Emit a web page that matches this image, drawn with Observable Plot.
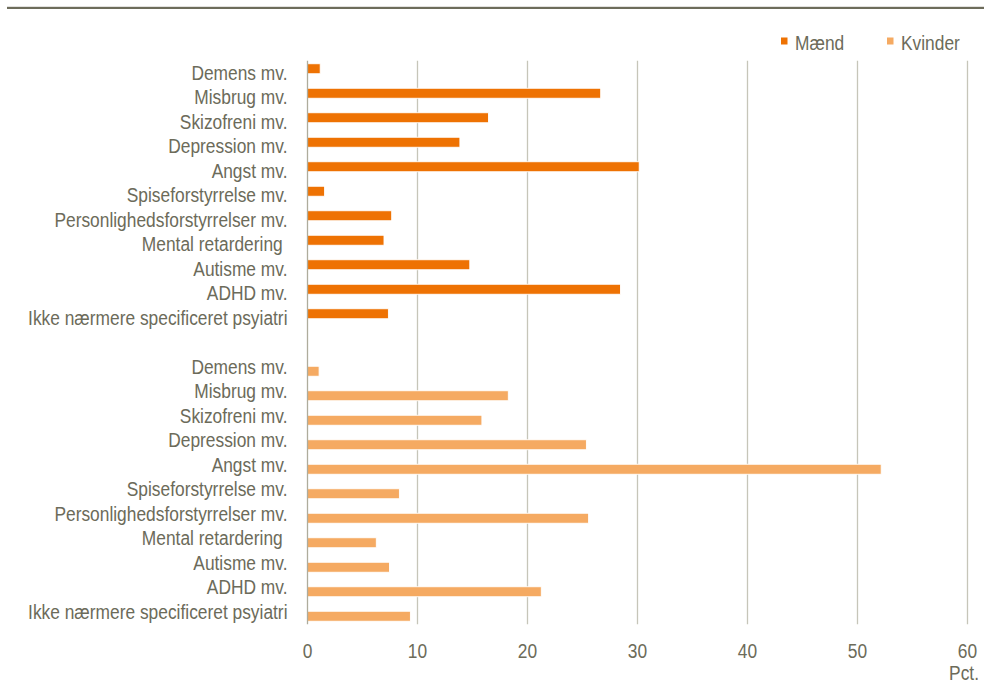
<!DOCTYPE html>
<html>
<head>
<meta charset="utf-8">
<script src="https://cdn.jsdelivr.net/npm/d3@7"></script>
<script src="https://cdn.jsdelivr.net/npm/@observablehq/plot@0.6"></script>
<style>
  html, body { margin: 0; padding: 0; background: #ffffff; }
  #wrap { position: relative; width: 984px; height: 684px; overflow: hidden; }
  #wrap > svg { position: absolute; left: 0; top: 0; }
</style>
</head>
<body>
<div id="wrap"></div>
<script>
// ---- data ----
const categories = [
  "Demens mv.", "Misbrug mv.", "Skizofreni mv.", "Depression mv.", "Angst mv.",
  "Spiseforstyrrelse mv.", "Personlighedsforstyrrelser mv.", "Mental retardering ",
  "Autisme mv.", "ADHD mv.", "Ikke nærmere specificeret psyiatri"
];
const maend   = [1.2, 26.7, 16.5, 13.9, 30.2, 1.6, 7.7, 7.0, 14.8, 28.5, 7.4];
const kvinder = [1.1, 18.3, 15.9, 25.4, 52.2, 8.4, 25.6, 6.3, 7.5, 21.3, 9.4];
const seriesNames = ["Mænd", "Kvinder"];
const seriesColors = ["#EE7203", "#F5AA62"];
const xTicks = [0, 10, 20, 30, 40, 50, 60];
const unitLabel = "Pct.";

// ---- typography (narrow look: Liberation Sans compressed horizontally) ----
const fontFamily = "'Liberation Sans', Arial, sans-serif";
const fontSize = 19.5;
const hScale = 0.89;
const textColor = "#6c6b5a";

// ---- build table ----
const keys = [
  ...categories.map(c => "M|" + c),
  "gap",
  ...categories.map(c => "K|" + c)
];
const menData = categories.map((c, i) => ({key: "M|" + c, v: maend[i]}));
const womenData = categories.map((c, i) => ({key: "K|" + c, v: kvinder[i]}));
const fmt = d => d === "gap" ? "" : d.split("|")[1];

const W = 984, H = 684;
const chart = Plot.plot({
  width: W, height: H,
  marginTop: 60.75, marginBottom: 59.75, marginLeft: 307, marginRight: 17,
  style: {fontFamily, fontSize: fontSize + "px", color: textColor, background: "transparent", overflow: "visible"},
  x: {domain: [0, 60]},
  y: {domain: keys, padding: 0, round: false},
  marks: [
    Plot.gridX(xTicks.slice(1), {stroke: "#c6c5b9", strokeOpacity: 1, strokeWidth: 1.3}),
    Plot.barX(menData, {x: "v", y: "key", fill: seriesColors[0], insetTop: 3, insetBottom: 11.5, stroke: "#ffffff", strokeWidth: 0.9}),
    Plot.barX(womenData, {x: "v", y: "key", fill: seriesColors[1], insetTop: 11.5, insetBottom: 3, stroke: "#ffffff", strokeWidth: 0.9}),
    Plot.ruleX([0], {stroke: "#aeac9c", strokeWidth: 1.3}),
    Plot.axisX({ticks: xTicks, tickSize: 0, tickPadding: 19, label: null, tickFormat: d => String(d)}),
    Plot.axisY({tickSize: 0, tickPadding: 20, label: null, tickFormat: fmt})
  ]
});
document.getElementById("wrap").appendChild(chart);

// ---- overlay: top rule, legend, unit label ----
const ns = "http://www.w3.org/2000/svg";
const ov = document.createElementNS(ns, "svg");
ov.setAttribute("width", W); ov.setAttribute("height", H);
ov.style.pointerEvents = "none";
ov.style.fontFamily = fontFamily;
ov.style.fontSize = fontSize + "px";
function el(tag, attrs, text) {
  const e = document.createElementNS(ns, tag);
  for (const k in attrs) e.setAttribute(k, attrs[k]);
  if (text != null) e.textContent = text;
  ov.appendChild(e);
  return e;
}
el("rect", {x: 7, y: 6.8, width: W - 7, height: 2.2, fill: "#6d6c5b"});
const legendX = [781, 887];
seriesNames.forEach((n, i) => {
  el("rect", {x: legendX[i], y: 37.5, width: 6.5, height: 7, fill: seriesColors[i]});
  el("text", {x: legendX[i] + 14, y: 50, fill: textColor}, n);
});
el("text", {x: 979, y: 679.5, fill: textColor, "text-anchor": "end"}, unitLabel);
document.getElementById("wrap").appendChild(ov);

// compress glyphs horizontally to mimic the narrow typeface
document.querySelectorAll("#wrap svg text").forEach(t => {
  const len = t.getComputedTextLength();
  if (len > 0) {
    t.setAttribute("textLength", (len * hScale).toFixed(2));
    t.setAttribute("lengthAdjust", "spacingAndGlyphs");
  }
});
</script>
</body>
</html>
